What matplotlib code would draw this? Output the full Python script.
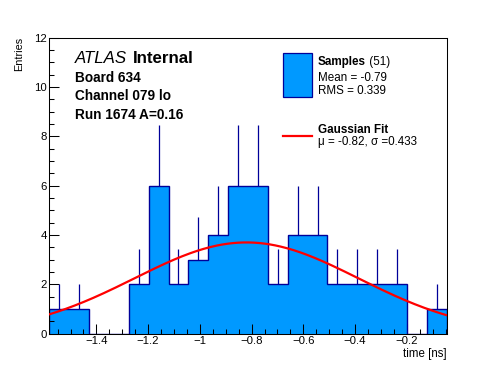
import numpy as np
import matplotlib
matplotlib.use('Agg')
import matplotlib.pyplot as plt
from matplotlib.ticker import MultipleLocator, FuncFormatter
from matplotlib.patches import Rectangle
from matplotlib.lines import Line2D

# histogram of sample times, 20 bins
counts = [1, 1, 0, 0, 2, 6, 2, 3, 4, 6, 6, 2, 4, 4, 2, 2, 2, 2, 0, 1]
x_lo, x_hi = -1.582, -0.046
n_entries = 51
sample_mean = -0.79
sample_rms = 0.339

# gaussian fit result
fit_mu = -0.82
fit_sigma = 0.433
fit_amp = 3.7

label_lines = ['Board 634', 'Channel 079 lo', 'Run 1674 A=0.16']

W, H = 496, 372
FONT = 'Liberation Sans'
FILL = '#0099ff'
EDGE = '#000099'

plt.rcParams['font.family'] = FONT


def px(x, y):
    '''pixel position (from top left) to figure fraction'''
    return x / W, 1 - y / H


def fmt(v, pos):
    return ('%g' % round(v, 6)).replace('-', '\u2212')


fig = plt.figure(figsize=(W / 100, H / 100), dpi=100)
left, top = px(49.3, 37.7)
right, bottom = px(446.7, 333.7)
ax = fig.add_axes([left, bottom, right - left, top - bottom])

counts = np.array(counts, dtype=float)
edges = np.linspace(x_lo, x_hi, len(counts) + 1)
centers = 0.5 * (edges[:-1] + edges[1:])

ax.stairs(counts, edges, fill=True, facecolor=FILL, edgecolor='none', zorder=1)
ax.stairs(counts, edges, color=EDGE, lw=1.0, baseline=0, zorder=2)
nz = counts > 0
ax.vlines(centers[nz], counts[nz], counts[nz] + np.sqrt(counts[nz]), color=EDGE, lw=0.9, zorder=2)

xs = np.linspace(x_lo, x_hi, 300)
ax.plot(xs, fit_amp * np.exp(-0.5 * ((xs - fit_mu) / fit_sigma) ** 2), color='red', lw=1.6, zorder=3)

ax.set_xlim(x_lo, x_hi)
ax.set_ylim(0, 12)
ax.xaxis.set_major_locator(MultipleLocator(0.2))
ax.xaxis.set_minor_locator(MultipleLocator(0.05))
ax.yaxis.set_major_locator(MultipleLocator(2))
ax.yaxis.set_minor_locator(MultipleLocator(0.5))
ax.xaxis.set_major_formatter(FuncFormatter(fmt))
ax.yaxis.set_major_formatter(FuncFormatter(fmt))
ax.tick_params(which='both', direction='in', top=False, right=False, width=0.75, labelsize=8.2)
ax.tick_params(which='major', length=7.3)
ax.tick_params(which='minor', length=3.6)
ax.tick_params(axis='x', pad=1.8)
ax.tick_params(axis='y', pad=1.9)
for sp in ax.spines.values():
    sp.set_linewidth(0.75)

# axis titles
fig.text(*px(447, 357.5), 'time [ns]', ha='right', va='baseline', fontsize=8.3)
fig.text(*px(19, 36.7), 'Entries', ha='center', va='top', rotation=90, fontsize=7.8)

# ATLAS label block
fig.text(*px(74.7, 63.3), 'ATLAS', style='italic', fontsize=12.2, va='baseline')
fig.text(*px(132.5, 63.3), 'Internal', weight='bold', fontsize=12.2, va='baseline')
for i, line in enumerate(label_lines):
    fig.text(*px(74.7, 81.5 + 18.7 * i), line, weight='bold', fontsize=9.8, va='baseline')

# legend
x0, y0 = px(283.3, 96.7)
x1, y1 = px(311.7, 53.3)
fig.add_artist(Rectangle((x0, y0), x1 - x0, y1 - y0, transform=fig.transFigure,
                         facecolor=FILL, edgecolor=EDGE, lw=0.9))
t = fig.text(*px(317.7, 65), 'Samples', weight='bold', fontsize=8.4, va='baseline')
ax.annotate(' (%d)' % n_entries, xy=(1, 0), xycoords=t, va='bottom', ha='left', fontsize=8.4,
            annotation_clip=False)
fig.text(*px(317.7, 80.7), 'Mean = %.2f' % sample_mean, fontsize=8.4, va='baseline')
fig.text(*px(317.7, 94), 'RMS = %.3f' % sample_rms, fontsize=8.4, va='baseline')

lx0, ly = px(283.3, 135.5)
lx1, _ = px(311.7, 135.5)
fig.add_artist(Line2D([lx0, lx1], [ly, ly], transform=fig.transFigure, color='red', lw=1.6))
fig.text(*px(317.7, 132.7), 'Gaussian Fit', weight='bold', fontsize=8.4, va='baseline')
fig.text(*px(317.7, 145), '\u03bc = %.2f, \u03c3 =%.3f' % (fit_mu, fit_sigma), fontsize=8.4, va='baseline')

fig.savefig('out.png', dpi=100)
